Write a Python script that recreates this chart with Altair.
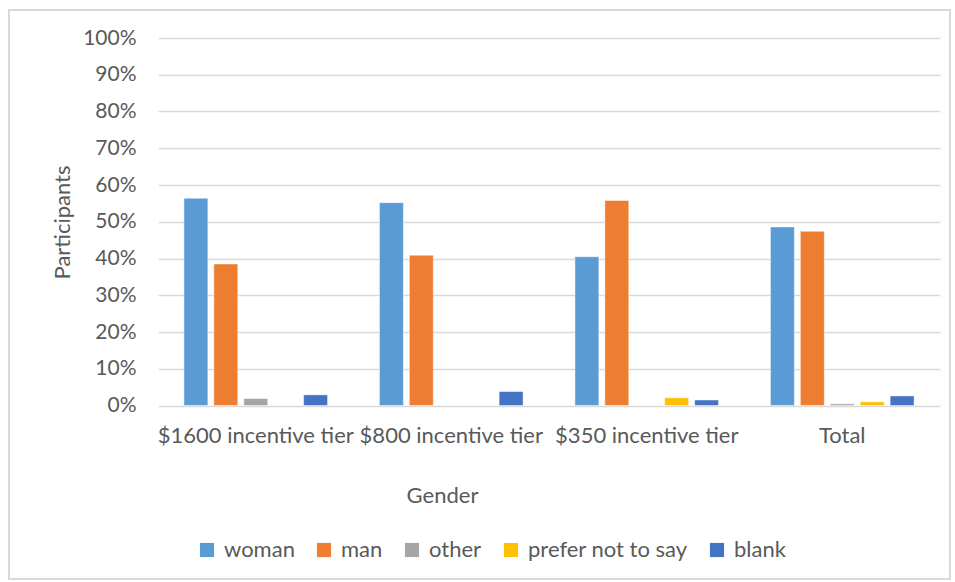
import altair as alt
import pandas as pd

categories = ["$1600 incentive tier", "$800 incentive tier", "$350 incentive tier", "Total"]
series = ["woman", "man", "other", "prefer not to say", "blank"]
woman = [0.564, 0.552, 0.405, 0.486]
man = [0.385, 0.409, 0.558, 0.474]
other = [0.019, 0.0, 0.0, 0.0045]
prefer = [0.0, 0.0, 0.021, 0.010]
blank = [0.029, 0.038, 0.015, 0.026]
colors = ["#5B9BD5", "#ED7D31", "#A5A5A5", "#FFC000", "#4472C4"]

rows = []
for s, vals in zip(series, [woman, man, other, prefer, blank]):
    for c, v in zip(categories, vals):
        rows.append({"tier": c, "gender": s, "value": v})
df = pd.DataFrame(rows)

FONT = "Lato"
TXT = "#595959"

bars = alt.Chart(df).transform_filter("datum.value > 0").mark_bar(
    stroke="white", strokeWidth=0.8, strokeOpacity=0.6
).encode(
    x=alt.X("tier:N", sort=categories,
            scale=alt.Scale(domain=categories, paddingInner=0.25, paddingOuter=0.125),
            axis=alt.Axis(title="Gender", labelAngle=0, labelFontSize=22, labelColor=TXT,
                          labelFont=FONT, labelPadding=20, labelLimit=0, domain=False, ticks=False,
                          titleFont=FONT, titleFontSize=22, titleColor=TXT, titleFontWeight="normal",
                          titleX=284, titleY=90, titleBaseline="middle", titleAnchor="start",
                          titleAlign="center")),
    xOffset=alt.XOffset("gender:N", sort=series,
                        scale=alt.Scale(domain=series, paddingInner=0.2, paddingOuter=0.05)),
    y=alt.Y("value:Q", scale=alt.Scale(domain=[0, 1]),
            axis=alt.Axis(title="Participants", format=".0%", values=[i / 10 for i in range(11)],
                          labelFontSize=21, labelColor=TXT, labelFont=FONT, labelPadding=22,
                          domain=False, ticks=False, gridColor="#d9d9d9", gridWidth=1.5,
                          titleFont=FONT, titleFontSize=22, titleColor=TXT, titleFontWeight="normal",
                          titleX=-96, titleY=184, titleAngle=-90, titleAlign="center",
                          titleBaseline="middle")),
    color=alt.Color("gender:N", sort=series,
                    scale=alt.Scale(domain=series, range=colors),
                    legend=alt.Legend(title=None, orient="none", direction="horizontal",
                                      legendX=38, legendY=501, symbolType="square",
                                      symbolSize=200, symbolStrokeWidth=0,
                                      labelFont=FONT, labelFontSize=22, labelColor=TXT,
                                      columnPadding=18, labelOffset=6, symbolOpacity=1)),
)

frame = alt.Chart(df).mark_rect(fill=None, stroke="#d9d9d9", strokeWidth=1.5).encode(
    x=alt.value(-149), x2=alt.value(792), y=alt.value(-28), y2=alt.value(541)
)

chart = alt.layer(frame, bars).properties(
    width=782, height=367.5,
    padding={"left": 158, "top": 38, "right": 15, "bottom": 176},
    autosize=alt.AutoSizeParams(type="none"),
    background="white",
).configure_view(strokeWidth=0, stroke="transparent")

chart.save("out.html", embed_options={"renderer": "svg", "actions": False})
